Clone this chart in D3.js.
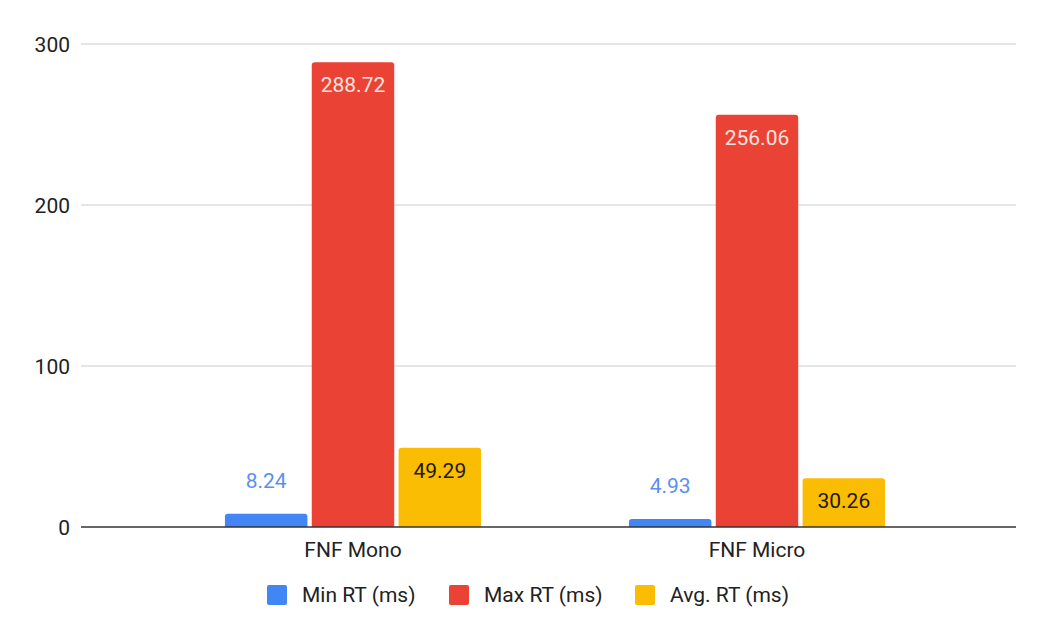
<!DOCTYPE html>
<html>
<head>
<meta charset="utf-8">
<script src="https://cdn.jsdelivr.net/npm/d3@7"></script>
<style>
  body { margin: 0; background: #fff; }
  text { font-family: Roboto, Arial, sans-serif; }
</style>
</head>
<body>
<div id="chart"></div>
<script>
// --- Data ---
const categories = ["FNF Mono", "FNF Micro"];
const seriesNames = ["Min RT (ms)", "Max RT (ms)", "Avg. RT (ms)"];
const minRT = [8.24, 4.93];
const maxRT = [288.72, 256.06];
const avgRT = [49.29, 30.26];
const yTicks = [0, 100, 200, 300];

// --- Layout ---
const width = 1061;
const height = 640;
const plot = { left: 81, right: 1016, top: 44, bottom: 527 };
const sansFont = "'Liberation Sans', Arial, sans-serif";

const colors = ["#4285f4", "#ea4335", "#fbbc04"];
const labelColors = ["#5b8ff0", "#fde3df", "#1f1a0a"];

const seriesValues = [minRT, maxRT, avgRT];
const rows = categories.map((c, i) => ({
  category: c,
  values: seriesValues.map((s, k) => ({ key: k, value: s[i] }))
}));

const svg = d3.select("#chart")
  .append("svg")
  .attr("width", width)
  .attr("height", height);

const y = d3.scaleLinear().domain([0, 300]).range([plot.bottom, plot.top]);

// group bands (groups are not centered in the plot box in the source)
const x0 = d3.scaleBand().domain(categories).range([151, 959]).paddingInner(0.366).paddingOuter(0.183);
const x1 = d3.scaleBand().domain([0, 1, 2]).range([0, x0.bandwidth()]).paddingInner(0.05);

// gridlines + tick labels
svg.append("g")
  .selectAll("line")
  .data(yTicks.filter((t) => t !== 0))
  .join("line")
  .attr("x1", plot.left)
  .attr("x2", plot.right)
  .attr("y1", (d) => y(d))
  .attr("y2", (d) => y(d))
  .attr("stroke", "#cccccc")
  .attr("stroke-width", 1);

svg.append("g")
  .selectAll("text")
  .data(yTicks)
  .join("text")
  .attr("x", 70)
  .attr("y", (d) => y(d))
  .attr("dy", "0.36em")
  .attr("text-anchor", "end")
  .attr("font-family", sansFont)
  .attr("font-size", 21)
  .attr("fill", "#222")
  .text((d) => d);

// bars with rounded top corners
function barPath(x, yTop, w, yBase, r) {
  r = Math.min(r, (yBase - yTop) / 2, w / 2);
  return `M${x},${yBase}V${yTop + r}Q${x},${yTop} ${x + r},${yTop}` +
    `H${x + w - r}Q${x + w},${yTop} ${x + w},${yTop + r}V${yBase}Z`;
}

const groups = svg.append("g")
  .selectAll("g")
  .data(rows)
  .join("g")
  .attr("transform", (d) => `translate(${x0(d.category)},0)`);

groups.selectAll("path")
  .data((d) => d.values)
  .join("path")
  .attr("d", (d) => barPath(x1(d.key), y(d.value), x1.bandwidth(), y(0), 3))
  .attr("fill", (d) => colors[d.key]);

// value labels: inside the bar when it fits, otherwise above
groups.selectAll("text")
  .data((d) => d.values)
  .join("text")
  .attr("x", (d) => x1(d.key) + x1.bandwidth() / 2)
  .attr("y", (d) => {
    const h = y(0) - y(d.value);
    return h > 40 ? y(d.value) + 30 : y(d.value) - 26;
  })
  .attr("text-anchor", "middle")
  .attr("font-size", 21)
  .attr("fill", (d) => labelColors[d.key])
  .text((d) => d.value.toFixed(2));

// baseline
svg.append("line")
  .attr("x1", plot.left)
  .attr("x2", plot.right)
  .attr("y1", y(0))
  .attr("y2", y(0))
  .attr("stroke", "#333")
  .attr("stroke-width", 1.3);

// category labels
svg.append("g")
  .selectAll("text")
  .data(categories)
  .join("text")
  .attr("x", (d) => x0(d) + x0.bandwidth() / 2)
  .attr("y", 557)
  .attr("text-anchor", "middle")
  .attr("font-family", sansFont)
  .attr("font-size", 21)
  .attr("fill", "#222")
  .text((d) => d);

// legend
const legendX = [267, 449, 635];
const legend = svg.append("g")
  .selectAll("g")
  .data(seriesNames)
  .join("g")
  .attr("transform", (d, i) => `translate(${legendX[i]},585)`);

legend.append("rect")
  .attr("width", 20)
  .attr("height", 20)
  .attr("rx", 2)
  .attr("fill", (d, i) => colors[i]);

legend.append("text")
  .attr("x", 35)
  .attr("y", 17)
  .attr("font-family", sansFont)
  .attr("font-size", 21)
  .attr("fill", "#222")
  .text((d) => d);
</script>
</body>
</html>
